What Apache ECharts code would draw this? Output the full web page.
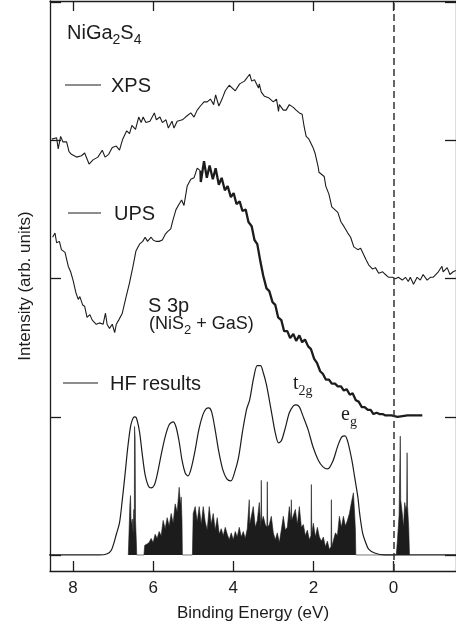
<!DOCTYPE html>
<html lang="en">
<head>
<meta charset="UTF-8">
<style>
  html, body { height: 100%; margin: 0; background: #fff; }
  #chart { width: 456px; height: 627px; }
</style>
</head>
<body>
<div id="chart"></div>
<script src="https://cdn.jsdelivr.net/npm/echarts@6.0.0/dist/echarts.min.js"></script>
<script>
// binding energy (eV), intensity (arb. units, tick spacing = 1)
var xTicks = [0, 2, 4, 6, 8];
var yTicks = [0, 1, 2, 3, 4];

var xpsData = [
  [8.53,3.01],[8.41,3.02],[8.37,2.94],[8.31,3.03],[8.25,2.99],[8.16,2.99],[8.10,2.92],[8.04,2.90],[8.00,2.91],
  [7.91,2.88],[7.79,2.89],[7.71,2.91],[7.60,2.83],[7.50,2.86],[7.38,2.88],[7.27,2.93],[7.20,2.88],[7.11,2.90],
  [7.02,2.95],[6.92,2.96],[6.84,2.93],[6.76,3.01],[6.66,3.07],[6.59,3.05],[6.53,3.11],[6.44,3.08],[6.36,3.17],
  [6.30,3.13],[6.25,3.17],[6.18,3.13],[6.08,3.14],[5.97,3.20],[5.92,3.15],[5.83,3.17],[5.77,3.13],[5.68,3.15],
  [5.62,3.09],[5.53,3.14],[5.48,3.09],[5.40,3.14],[5.27,3.15],[5.19,3.17],[5.06,3.20],[4.98,3.17],[4.90,3.22],
  [4.82,3.25],[4.73,3.28],[4.65,3.28],[4.57,3.30],[4.49,3.26],[4.44,3.33],[4.36,3.25],[4.28,3.30],[4.20,3.36],
  [4.10,3.40],[3.95,3.36],[3.84,3.41],[3.72,3.43],[3.59,3.48],[3.54,3.43],[3.47,3.44],[3.37,3.38],[3.35,3.41],
  [3.30,3.35],[3.22,3.32],[3.12,3.31],[3.00,3.28],[2.92,3.30],[2.87,3.21],[2.85,3.26],[2.75,3.22],[2.68,3.22],
  [2.60,3.26],[2.50,3.24],[2.43,3.22],[2.35,3.20],[2.28,3.19],[2.23,3.10],[2.18,3.03],[2.11,3.01],[2.01,2.95],
  [1.96,2.91],[1.88,2.81],[1.86,2.77],[1.73,2.74],[1.69,2.67],[1.61,2.61],[1.54,2.52],[1.39,2.48],[1.31,2.41],
  [1.24,2.38],[1.14,2.33],[1.07,2.30],[0.99,2.23],[0.89,2.21],[0.82,2.22],[0.77,2.19],[0.69,2.14],[0.62,2.10],
  [0.52,2.07],[0.45,2.08],[0.37,2.04],[0.27,2.05],[0.20,2.03],[0.12,2.01],[0.02,2.01],[-0.05,2.00],[-0.12,2.01],
  [-0.22,1.99],[-0.30,2.01],[-0.37,1.98],[-0.42,2.01],[-0.50,1.96],[-0.59,2.01],[-0.67,1.99],[-0.74,2.03],
  [-0.84,1.99],[-0.92,2.01],[-0.99,2.01],[-1.12,2.05],[-1.21,2.09],[-1.24,2.05],[-1.34,2.08],[-1.41,2.03],
  [-1.49,2.05],[-1.56,2.06]
];

var upsLowData = [
  [8.51,2.30],[8.45,2.33],[8.41,2.26],[8.34,2.27],[8.29,2.21],[8.20,2.19],[8.12,2.09],[8.06,2.05],[8.00,1.99],
  [7.93,1.90],[7.87,1.85],[7.83,1.87],[7.76,1.81],[7.71,1.80],[7.65,1.72],[7.58,1.74],[7.52,1.70],[7.42,1.67],
  [7.34,1.68],[7.25,1.67],[7.19,1.75],[7.15,1.67],[7.09,1.64],[7.02,1.67],[6.96,1.61],[6.92,1.67],[6.86,1.70],
  [6.77,1.75],[6.69,1.85],[6.59,1.97],[6.51,2.08],[6.43,2.20],[6.34,2.25],[6.26,2.27],[6.20,2.30],[6.14,2.27],
  [6.05,2.30],[6.00,2.28],[5.93,2.27],[5.85,2.27],[5.77,2.28],[5.70,2.32],[5.64,2.34],[5.56,2.36],[5.52,2.41],
  [5.43,2.50],[5.35,2.54],[5.29,2.57],[5.23,2.53],[5.15,2.67],[5.06,2.72],[4.98,2.73],[4.90,2.80],[4.82,2.78]
];

var upsHighData = [
  [4.82,2.78],[4.81,2.70],[4.73,2.85],[4.66,2.73],[4.59,2.82],[4.51,2.72],[4.44,2.80],[4.36,2.68],[4.29,2.73],
  [4.21,2.64],[4.14,2.67],[4.06,2.59],[3.99,2.62],[3.92,2.54],[3.84,2.56],[3.77,2.49],[3.69,2.50],[3.62,2.41],
  [3.54,2.38],[3.47,2.28],[3.40,2.25],[3.32,2.12],[3.25,2.02],[3.17,1.93],[3.10,1.91],[3.02,1.83],[2.95,1.81],
  [2.88,1.72],[2.80,1.70],[2.73,1.62],[2.65,1.62],[2.58,1.57],[2.50,1.60],[2.43,1.55],[2.35,1.59],[2.28,1.54],
  [2.21,1.56],[2.13,1.51],[2.06,1.49],[1.98,1.42],[1.91,1.39],[1.83,1.33],[1.76,1.31],[1.69,1.27],[1.61,1.27],
  [1.54,1.24],[1.46,1.24],[1.39,1.22],[1.31,1.22],[1.24,1.19],[1.17,1.20],[1.09,1.16],[1.02,1.17],[0.94,1.12],
  [0.87,1.11],[0.79,1.07],[0.72,1.07],[0.64,1.05],[0.57,1.05],[0.50,1.02],[0.42,1.03],[0.35,1.02],[0.27,1.02],
  [0.20,1.01],[0.12,1.01],[0.05,1.01],[-0.10,1.00],[-0.35,1.01],[-0.72,1.01]
];

var hfCurveData = [
  [8.60,0],[7.34,0],[7.16,0.007],[7.04,0.036],[6.91,0.159],[6.84,0.232],[6.77,0.399],[6.69,0.616],[6.64,0.761],
  [6.57,0.920],[6.52,0.978],[6.47,1.000],[6.42,0.993],[6.34,0.891],[6.27,0.725],[6.20,0.580],[6.12,0.500],
  [6.05,0.486],[5.97,0.507],[5.90,0.580],[5.80,0.725],[5.70,0.855],[5.60,0.942],[5.50,0.964],[5.43,0.928],
  [5.35,0.819],[5.28,0.688],[5.20,0.594],[5.13,0.572],[5.06,0.616],[4.96,0.746],[4.86,0.906],[4.76,1.014],
  [4.68,1.058],[4.61,1.065],[4.54,1.036],[4.46,0.920],[4.36,0.746],[4.26,0.616],[4.16,0.551],[4.06,0.536],
  [3.97,0.594],[3.87,0.703],[3.77,0.891],[3.67,1.051],[3.59,1.123],[3.49,1.283],[3.40,1.370],[3.32,1.370],
  [3.25,1.319],[3.17,1.232],[3.10,1.123],[3.02,0.993],[2.95,0.884],[2.87,0.812],[2.80,0.826],[2.70,0.920],
  [2.60,1.029],[2.50,1.080],[2.43,1.087],[2.35,1.072],[2.26,1.007],[2.13,0.906],[2.01,0.783],[1.88,0.688],
  [1.76,0.638],[1.64,0.623],[1.51,0.681],[1.39,0.790],[1.29,0.855],[1.21,0.862],[1.14,0.819],[1.04,0.688],
  [0.97,0.565],[0.89,0.420],[0.84,0.290],[0.77,0.159],[0.69,0.087],[0.62,0.043],[0.47,0.014],[0.22,0],[-1.60,0]
];

// HF density of states sticks
var hfDosData = [
  [6.62,0],[6.60,0.18],[6.58,0.37],[6.565,0.43],[6.55,0.22],[6.52,0.26],[6.50,0.15],[6.48,0.33],[6.47,0.20],
  [6.465,0.93],[6.45,0.85],[6.44,0.25],[6.42,0.10],[6.41,0],
  [6.23,0],[6.21,0.07],[6.15,0.08],[6.10,0.09],[6.05,0.12],[6.00,0.09],[5.95,0.15],[5.90,0.12],[5.85,0.17],
  [5.80,0.14],[5.75,0.25],[5.70,0.19],[5.65,0.27],[5.60,0.21],[5.55,0.30],[5.50,0.23],[5.45,0.37],[5.40,0.31],
  [5.35,0.49],[5.32,0.36],[5.30,0.42],[5.28,0.25],[5.27,0],
  [5.02,0],[5.00,0.30],[4.95,0.35],[4.90,0.24],[4.85,0.35],[4.80,0.22],[4.75,0.35],[4.70,0.24],[4.65,0.18],
  [4.60,0.35],[4.55,0.22],[4.50,0.30],[4.45,0.18],[4.40,0.27],[4.35,0.15],[4.30,0.19],[4.25,0.14],[4.20,0.20],
  [4.15,0.15],[4.10,0.11],[4.05,0.16],[4.00,0.11],[3.95,0.17],[3.90,0.13],[3.85,0.20],[3.80,0.13],[3.75,0.17],
  [3.70,0.12],[3.65,0.19],[3.61,0.20],[3.60,0.40],[3.59,0.22],[3.55,0.23],[3.50,0.35],[3.45,0.20],[3.40,0.25],
  [3.35,0.38],[3.31,0.20],[3.30,0.54],[3.29,0.24],[3.25,0.28],[3.20,0.22],[3.16,0.20],[3.15,0.53],[3.14,0.20],
  [3.10,0.22],[3.05,0.28],[3.00,0.16],[2.95,0.11],[2.90,0.16],[2.85,0.09],[2.80,0.18],[2.75,0.28],[2.70,0.18],
  [2.65,0.20],[2.60,0.35],[2.56,0.25],[2.55,0.40],[2.54,0.25],[2.50,0.26],[2.45,0.33],[2.40,0.22],[2.35,0.35],
  [2.30,0.20],[2.25,0.22],[2.20,0.14],[2.15,0.18],[2.10,0.11],[2.06,0.14],[2.05,0.51],[2.04,0.15],[2.00,0.23],
  [1.95,0.13],[1.90,0.20],[1.85,0.13],[1.80,0.10],[1.75,0.13],[1.70,0.06],[1.65,0.10],[1.60,0.04],[1.56,0.06],
  [1.55,0.40],[1.54,0.06],[1.50,0.06],[1.45,0.16],[1.40,0.14],[1.35,0.28],[1.30,0.20],[1.25,0.28],[1.20,0.21],
  [1.15,0.25],[1.10,0.30],[1.05,0.38],[1.00,0.45],[0.97,0.30],[0.95,0.18],[0.94,0],
  [-0.07,0],[-0.10,0.11],[-0.14,0.29],[-0.16,0.30],[-0.17,0.86],[-0.18,0.40],[-0.22,0.30],[-0.25,0.20],
  [-0.28,0.38],[-0.31,0.33],[-0.33,0.36],[-0.34,0.74],[-0.35,0.36],[-0.38,0.20],[-0.40,0]
];

var FONT = '"Liberation Sans", Arial, sans-serif';
var SERIF = '"Liberation Serif", "Times New Roman", serif';
var INK = '#1c1c1c';

function xAxisDef(pos, showLabel) {
  return {
    type: 'value', position: pos, inverse: true, min: -1.561, max: 8.575,
    axisLine: { show: true, onZero: false, lineStyle: { color: INK, width: 1.3 } },
    axisTick: { show: true, inside: true, length: 10, customValues: xTicks, lineStyle: { color: INK, width: 1.3 } },
    axisLabel: { show: showLabel, customValues: xTicks, fontSize: 17, fontFamily: FONT, color: INK, margin: 9 },
    splitLine: { show: false }
  };
}
function yAxisDef(pos) {
  return {
    type: 'value', position: pos, min: -0.116, max: 4.01,
    axisLine: { show: true, onZero: false, lineStyle: { color: INK, width: 1.3 } },
    axisTick: { show: true, inside: true, length: 11, customValues: yTicks, lineStyle: { color: INK, width: 1.3 } },
    axisLabel: { show: false },
    splitLine: { show: false }
  };
}

var xb = xAxisDef('bottom', true);
xb.name = 'Binding Energy (eV)';
xb.nameLocation = 'middle';
xb.nameGap = 34;
xb.nameTextStyle = { fontSize: 17, fontFamily: FONT, color: INK };
var xt = xAxisDef('top', false);

var yl = yAxisDef('left');
yl.name = 'Intensity (arb. units)';
yl.nameLocation = 'middle';
yl.nameGap = 16;
yl.nameTextStyle = { fontSize: 17, fontFamily: FONT, color: INK };
var yr = yAxisDef('right');

function lineSeries(data, width, extra) {
  var s = {
    type: 'line', data: data, showSymbol: false, symbol: 'none',
    xAxisIndex: 0, yAxisIndex: 0,
    lineStyle: { color: INK, width: width }
  };
  for (var k in extra) s[k] = extra[k];
  return s;
}

var rich = {
  a: { fontSize: 20, fontFamily: FONT, fill: INK, color: INK, verticalAlign: 'bottom', padding: [0, 0, 4, 0] },
  s: { fontSize: 14, fontFamily: FONT, fill: INK, color: INK, verticalAlign: 'bottom' },
  b: { fontSize: 18, fontFamily: FONT, fill: INK, color: INK, verticalAlign: 'bottom', padding: [0, 0, 4, 0] },
  c: { fontSize: 13, fontFamily: FONT, fill: INK, color: INK, verticalAlign: 'bottom' },
  t: { fontSize: 20, fontFamily: SERIF, fill: INK, color: INK, verticalAlign: 'bottom', padding: [0, 0, 4, 0] },
  u: { fontSize: 14, fontFamily: SERIF, fill: INK, color: INK, verticalAlign: 'bottom' }
};

function label(x, y, text) {
  return { type: 'text', x: x, y: y, style: { text: text, rich: rich, verticalAlign: 'middle', align: 'left', fill: INK } };
}
function legendLine(x1, x2, y) {
  return { type: 'line', shape: { x1: x1, y1: y, x2: x2, y2: y }, style: { stroke: INK, lineWidth: 1.1 } };
}

var chart = echarts.init(document.getElementById('chart'));
chart.setOption({
  animation: false,
  backgroundColor: '#fff',
  grid: { left: 50, top: 1, right: -3, bottom: 56 },
  xAxis: [xb, xt],
  yAxis: [yl, yr],
  series: [
    lineSeries(hfDosData, 0.6, {
      areaStyle: { color: INK, opacity: 1 },
      markLine: {
        symbol: 'none', silent: true, label: { show: false },
        lineStyle: { color: '#333', width: 1.5, type: [7, 4] },
        data: [{ xAxis: 0 }]
      }
    }),
    lineSeries(hfCurveData, 1.2, { smooth: 0.3 }),
    lineSeries(xpsData, 1.1, {}),
    lineSeries(upsLowData, 1.1, {}),
    lineSeries(upsHighData, 2.3, {})
  ],
  graphic: [
    label(67, 35, '{a|NiGa}{s|2}{a|S}{s|4}'),
    legendLine(65, 101, 85),
    label(111, 88, '{a|XPS}'),
    legendLine(68, 101, 213),
    label(114, 216, '{a|UPS}'),
    legendLine(63, 98, 383),
    label(110, 386, '{a|HF results}'),
    label(148, 308, '{a|S 3p}'),
    label(149, 326, '{b|(NiS}{c|2}{b| + GaS)}'),
    label(293, 386, '{t|t}{u|2g}'),
    label(341, 417, '{t|e}{u|g}')
  ]
});
</script>
</body>
</html>
